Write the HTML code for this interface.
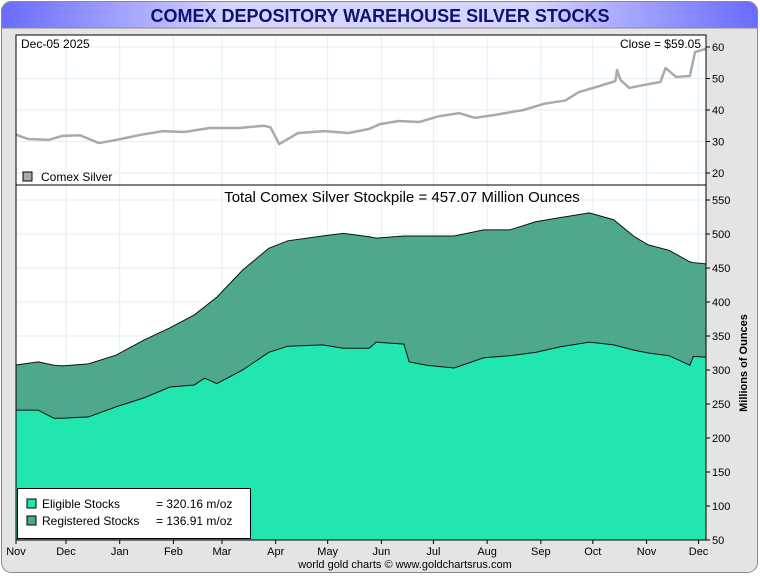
<!DOCTYPE html>
<html><head><meta charset="utf-8"><style>
body{margin:0;width:760px;height:575px;background:#fff;overflow:hidden;font-family:"Liberation Sans",sans-serif}
</style></head><body>
<svg id="c" width="760" height="575" xmlns="http://www.w3.org/2000/svg">
<defs>
<linearGradient id="tg" x1="0" x2="1" y1="0" y2="0">
<stop offset="0" stop-color="#6a6aff"/><stop offset="0.3" stop-color="#d4d4ff"/><stop offset="0.7" stop-color="#d4d4ff"/><stop offset="1" stop-color="#6a6aff"/>
</linearGradient>
<clipPath id="pc"><rect x="16" y="35" width="690" height="505"/></clipPath>
</defs>
<rect x="1.5" y="1.5" width="756" height="571" rx="10" fill="#e4e4e4" stroke="#8a8a8a"/>
<path d="M1.5,28 V11.5 a10,10 0 0 1 10,-10 H747.5 a10,10 0 0 1 10,10 V28 Z" fill="url(#tg)" stroke="#8a8a8a"/>
<text x="380" y="22" text-anchor="middle" font-size="18" font-weight="bold" fill="#101070">COMEX DEPOSITORY WAREHOUSE SILVER STOCKS</text>
<rect x="16" y="35" width="690" height="505" fill="#fff"/>
<g id="g"></g>
</svg>
<script>
const monthLabels=["Nov","Dec","Jan","Feb","Mar","Apr","May","Jun","Jul","Aug","Sep","Oct","Nov","Dec"];
const monthDays=[0,30,61,92,120,151,181,212,242,273,304,334,365,395];
const stockDays=[0,14,23,28,43,59,75,90,104,110,117,132,147,158,178,190,205,209,225,228,238,254,271,286,301,315,332,346,358,366,378,390,392,399];
const totalStocks=[307,312,307,306,309,322,344,362,381,393,407,447,479,490,497,501,496,494,497,497,497,497,506,506,518,524,531,521,496,484,476,459,458,456];
const eligibleStocks=[241,241,229,229,231,246,259,275,278,288,280,300,326,335,337,332,332,341,338,312,307,303,318,321,326,334,341,337,329,325,321,307,320,319];
const priceDays=[0,8,20,28,38,49,59,72,86,98,113,130,144,148,153,164,179,193,205,211,222,234,245,257,266,278,294,306,318,326,336,347,348,350,355,364,373,376,382,390,393,399];
const prices=[32.4,30.8,30.5,31.8,32,29.5,30.5,32,33.3,33,34.3,34.3,35,34.5,29.2,32.7,33.3,32.7,34,35.5,36.5,36.2,38,39,37.5,38.5,40,42,43,45.7,47.3,49.2,52.7,49.5,47,48,48.9,53.3,50.5,50.8,58.4,59.4];
const priceTicks=[20,30,40,50,60];
const stockTicks=[50,100,150,200,250,300,350,400,450,500,550];

const NS="http://www.w3.org/2000/svg",G=document.getElementById('g');
const X=d=>14+d*1.733;
const YP=v=>47+(60-v)*3.15;
const YS=v=>200+(550-v)*0.68;
function mk(t,a,p){const e=document.createElementNS(NS,t);for(const k in a)e.setAttribute(k,a[k]);(p||G).appendChild(e);return e;}
const C=mk('g',{'clip-path':'url(#pc)'});
monthDays.forEach((d,i)=>{if(i==0)return;
 const l=mk('line',{x1:X(d),x2:X(d),y1:35,y2:540,stroke:'#e3eef6'},C);
 
 });
priceTicks.forEach(v=>{const l=mk('line',{x1:16,x2:706,y1:YP(v),y2:YP(v),stroke:'#e3eef6'},C);
 
 });
stockTicks.forEach(v=>{const l=mk('line',{x1:16,x2:706,y1:YS(v),y2:YS(v),stroke:'#e3eef6'},C);
 
 });
let pt=stockDays.map((d,i)=>X(d)+','+YS(totalStocks[i])).join(' L');
const reg=mk('path',{d:'M'+pt+' L'+X(399)+',540 L'+X(0)+',540 Z',fill:'#4ea88e'},C);


mk('path',{d:'M'+pt,fill:'none',stroke:'#111','stroke-width':1},C);
let pe=stockDays.map((d,i)=>X(d)+','+YS(eligibleStocks[i])).join(' L');
const el=mk('path',{d:'M'+pe+' L'+X(399)+',540 L'+X(0)+',540 Z',fill:'#22e6b0'},C);


mk('path',{d:'M'+pe,fill:'none',stroke:'#111','stroke-width':1},C);
const pl=mk('path',{d:'M'+priceDays.map((d,i)=>X(d)+','+YP(prices[i])).join(' L'),fill:'none',stroke:'#aaa','stroke-width':2.5,'stroke-linejoin':'round'},C);


mk('rect',{x:16,y:35,width:690,height:505,fill:'none',stroke:'#000'});
mk('line',{x1:16,x2:706,y1:185,y2:185,stroke:'#000'});
priceTicks.forEach(v=>{mk('line',{x1:706,x2:710,y1:YP(v),y2:YP(v),stroke:'#000'});
 const t=mk('text',{x:712,y:YP(v)+4,'font-size':11});t.textContent=v;
 
 });
stockTicks.forEach(v=>{mk('line',{x1:706,x2:710,y1:YS(v),y2:YS(v),stroke:'#000'});
 const t=mk('text',{x:712,y:YS(v)+4,'font-size':11});t.textContent=v;
 
 });
monthDays.forEach((d,i)=>{const x=Math.max(16,X(d));mk('line',{x1:x,x2:x,y1:540,y2:544,stroke:'#000'});
 const t=mk('text',{x:x,y:555,'font-size':11,'text-anchor':'middle'});t.textContent=monthLabels[i];
 
 });
</script>
<svg width="760" height="575" style="position:absolute;left:0;top:0" xmlns="http://www.w3.org/2000/svg">
<text x="21" y="48" font-size="12">Dec-05  2025</text>
<text x="701" y="48" font-size="12" text-anchor="end">Close = $59.05</text>
<rect x="23" y="172" width="9" height="9" fill="#aaa" stroke="#000"/>
<text x="41" y="181" font-size="12">Comex Silver</text>
<text x="402" y="202" font-size="15" text-anchor="middle">Total Comex Silver Stockpile = 457.07 Million Ounces</text>
<text transform="translate(747,363) rotate(-90)" font-size="11" font-weight="bold" text-anchor="middle">Millions of Ounces</text>
<g>
<rect x="17.5" y="488.5" width="233" height="50" fill="#fff" stroke="#000"/>
<rect x="27" y="499" width="9" height="9" fill="#22e6b0" stroke="#000"/>
<text x="42" y="508" font-size="12">Eligible Stocks</text>
<text x="156" y="508" font-size="12">= 320.16 m/oz</text>
<rect x="27" y="516" width="9" height="9" fill="#4ea88e" stroke="#000"/>
<text x="42" y="525" font-size="12">Registered Stocks</text>
<text x="156" y="525" font-size="12">= 136.91 m/oz</text>
</g>
<text x="405" y="568" font-size="11" text-anchor="middle">world gold charts © www.goldchartsrus.com</text>
</svg>
</body></html>
